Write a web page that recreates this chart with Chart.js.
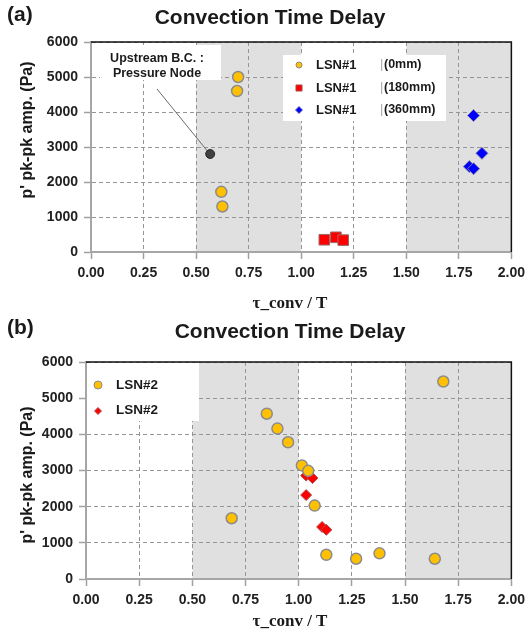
<!DOCTYPE html>
<html>
<head>
<meta charset="utf-8">
<script src="https://cdn.jsdelivr.net/npm/chart.js@4.4.0/dist/chart.umd.min.js"></script>
<style>
  html, body { margin: 0; padding: 0; background: #fff; }
  #wrap-a { position: absolute; left: 0; top: 0; width: 531px; height: 315px; }
  #wrap-b { position: absolute; left: 0; top: 315px; width: 531px; height: 319px; }
</style>
</head>
<body>
<div id="wrap-a"><canvas id="chart-a" width="531" height="315"></canvas></div>
<div id="wrap-b"><canvas id="chart-b" width="531" height="319"></canvas></div>
<script>
Chart.defaults.font.family = "'Liberation Sans', Arial, sans-serif";
Chart.defaults.color = '#222';

// tick labels
const xTickLabels = ["0.00", "0.25", "0.50", "0.75", "1.00", "1.25", "1.50", "1.75", "2.00"];
const yTickLabels = ["0", "1000", "2000", "3000", "4000", "5000", "6000"];
const shadedBands = [[0.5, 1.0], [1.5, 2.0]];

// (a) LSN#1
const lsn1Mm0X = [0.70, 0.695, 0.62, 0.625];
const lsn1Mm0Y = [5000, 4600, 1720, 1300];
const lsn1Mm180X = [1.11, 1.165, 1.20];
const lsn1Mm180Y = [350, 420, 340];
const lsn1Mm360X = [1.82, 1.86, 1.80, 1.82];
const lsn1Mm360Y = [3900, 2820, 2440, 2380];
const upstreamX = [0.567];
const upstreamY = [2800];

// (b) LSN#2
const lsn2CircleX = [0.85, 0.90, 0.95, 0.685, 1.68, 1.015, 1.045, 1.075, 1.13, 1.27, 1.38, 1.64];
const lsn2CircleY = [4570, 4160, 3780, 1680, 5460, 3140, 2990, 2030, 670, 560, 710, 560];
const lsn2DiamondX = [1.035, 1.065, 1.035, 1.075, 1.11, 1.13];
const lsn2DiamondY = [2860, 2790, 2320, 2040, 1440, 1360];

function points(xs, ys) {
    return xs.map((x, i) => ({ x: x, y: ys[i] }));
}

function makeScales(yWidth, xHeight) {
    const grid = {
        color: '#959595',
        lineWidth: 1,
        tickLength: 7,
        tickColor: '#a0a0a0',
        tickWidth: 1.5,
        tickBorderDash: []
    };
    const border = { color: '#a6a6a6', width: 2, dash: [4, 3] };
    return {
        x: {
            type: 'linear', min: 0, max: 2,
            afterFit: s => { s.height = xHeight; },
            ticks: {
                stepSize: 0.25, padding: 6, color: '#222',
                font: { size: 14, weight: 'bold' },
                callback: (v, i) => xTickLabels[i]
            },
            grid: grid, border: border
        },
        y: {
            type: 'linear', min: 0, max: 6000,
            afterFit: s => { s.width = yWidth; },
            ticks: {
                stepSize: 1000, padding: 6, color: '#222',
                font: { size: 14, weight: 'bold' },
                callback: (v, i) => yTickLabels[i]
            },
            grid: grid, border: border
        }
    };
}

function text(ctx, str, x, y, font, align, rot) {
    ctx.save();
    ctx.translate(x, y);
    if (rot) ctx.rotate(rot);
    ctx.font = font;
    ctx.fillStyle = '#1a1a1a';
    ctx.textAlign = align || 'center';
    ctx.textBaseline = 'middle';
    ctx.fillText(str, 0, 0);
    ctx.restore();
}

function marker(ctx, kind, x, y, r, fill, stroke) {
    ctx.save();
    ctx.fillStyle = fill;
    ctx.strokeStyle = stroke;
    ctx.lineWidth = 1;
    ctx.beginPath();
    if (kind === 'circle') ctx.arc(x, y, r, 0, Math.PI * 2);
    if (kind === 'rect') ctx.rect(x - r, y - r, 2 * r, 2 * r);
    if (kind === 'diamond') {
        ctx.moveTo(x, y - r); ctx.lineTo(x + r, y); ctx.lineTo(x, y + r); ctx.lineTo(x - r, y); ctx.closePath();
    }
    ctx.fill();
    ctx.stroke();
    ctx.restore();
}

function decor(cfg) {
    return {
        id: 'decor',
        beforeDraw(chart) {
            const { ctx, chartArea: a, scales: { x } } = chart;
            ctx.save();
            ctx.fillStyle = '#e0e0e0';
            shadedBands.forEach(b => {
                const x0 = x.getPixelForValue(b[0]);
                const x1 = x.getPixelForValue(b[1]);
                ctx.fillRect(x0, a.top, x1 - x0, a.bottom - a.top);
            });
            ctx.restore();
            text(ctx, cfg.tag, 7, cfg.tagY, "bold 21px 'Liberation Sans', Arial", 'left');
            text(ctx, 'Convection Time Delay', cfg.titleX, cfg.titleY, "bold 21px 'Liberation Sans', Arial");
            text(ctx, "p' pk-pk amp. (Pa)", 28, cfg.yTitleY, "bold 16px 'Liberation Sans', Arial", 'center', -Math.PI / 2);
            text(ctx, 'τ_conv / T', 290, cfg.xTitleY, "bold 17px 'Liberation Serif', 'Times New Roman', serif");
        },
        beforeDatasetsDraw(chart) {
            cfg.overlay(chart);
        },
        afterDraw(chart) {
            const { ctx, chartArea: a } = chart;
            ctx.save();
            ctx.strokeStyle = '#111';
            ctx.lineWidth = 1.5;
            ctx.beginPath();
            ctx.moveTo(a.left, a.top);
            ctx.lineTo(a.right, a.top);
            ctx.lineTo(a.right, a.bottom);
            ctx.stroke();
            ctx.restore();
        }
    };
}

const commonOptions = (padTop, yWidth, xHeight) => ({
    responsive: false,
    animation: false,
    layout: { padding: { top: padTop, right: 14, left: 0, bottom: 0 } },
    plugins: { legend: { display: false }, tooltip: { enabled: false } },
    scales: makeScales(yWidth, xHeight)
});

// ---------- (a) ----------
new Chart(document.getElementById('chart-a').getContext('2d'), {
    type: 'scatter',
    data: {
        datasets: [
            {
                label: 'LSN#1 (0mm)', data: points(lsn1Mm0X, lsn1Mm0Y),
                pointStyle: 'circle', pointRadius: 5.5,
                backgroundColor: '#FFC000', borderColor: '#8c8c8c', borderWidth: 1.5
            },
            {
                label: 'LSN#1 (180mm)', data: points(lsn1Mm180X, lsn1Mm180Y),
                pointStyle: 'rect', pointRadius: 7.5,
                backgroundColor: '#FF0000', borderColor: '#9a6a6a', borderWidth: 1
            },
            {
                label: 'LSN#1 (360mm)', data: points(lsn1Mm360X, lsn1Mm360Y),
                pointStyle: 'rectRot', pointRadius: 6,
                backgroundColor: '#0000FF', borderColor: '#7a7aa8', borderWidth: 1
            },
            {
                label: 'Upstream B.C.', data: points(upstreamX, upstreamY),
                pointStyle: 'circle', pointRadius: 4.5,
                backgroundColor: '#404040', borderColor: '#2a2a2a', borderWidth: 1
            }
        ]
    },
    options: commonOptions(42, 91, 63),
    plugins: [decor({
        tag: '(a)', tagY: 15, titleX: 270, titleY: 18, yTitleY: 130, xTitleY: 304,
        overlay(chart) {
            const { ctx, scales: { x, y } } = chart;
            // annotation box + leader line
            ctx.save();
            ctx.fillStyle = '#fff';
            ctx.fillRect(100, 45, 121, 35);
            ctx.strokeStyle = '#6a6a6a';
            ctx.lineWidth = 1;
            ctx.beginPath();
            ctx.moveTo(157, 89);
            ctx.lineTo(x.getPixelForValue(upstreamX[0]) - 2, y.getPixelForValue(upstreamY[0]) - 2);
            ctx.stroke();
            ctx.restore();
            text(ctx, 'Upstream B.C. :', 157, 59, "bold 12.5px 'Liberation Sans', Arial");
            text(ctx, 'Pressure Node', 157, 74, "bold 12.5px 'Liberation Sans', Arial");
            // legend
            ctx.save();
            ctx.fillStyle = '#fff';
            ctx.fillRect(283, 55, 163, 66);
            ctx.restore();
            const rows = [
                { y: 65, kind: 'circle', r: 3, fill: '#FFC000', stroke: '#8c8c8c', tag: '(0mm)' },
                { y: 88, kind: 'rect', r: 3, fill: '#FF0000', stroke: '#aa4444', tag: '(180mm)' },
                { y: 110, kind: 'diamond', r: 3.5, fill: '#0000FF', stroke: '#6060b0', tag: '(360mm)' }
            ];
            rows.forEach(r => {
                marker(ctx, r.kind, 299, r.y, r.r, r.fill, r.stroke);
                text(ctx, 'LSN#1', 316, r.y, "bold 13px 'Liberation Sans', Arial", 'left');
                ctx.save();
                ctx.fillStyle = '#b0b0b0';
                ctx.fillRect(381, r.y - 6, 1.2, 12);
                ctx.restore();
                text(ctx, r.tag, 384, r.y, "bold 12.5px 'Liberation Sans', Arial", 'left');
            });
        }
    })]
});

// ---------- (b) ----------
new Chart(document.getElementById('chart-b').getContext('2d'), {
    type: 'scatter',
    data: {
        datasets: [
            {
                label: 'LSN#2', data: points(lsn2CircleX, lsn2CircleY),
                pointStyle: 'circle', pointRadius: 5.5,
                backgroundColor: '#FFC000', borderColor: '#8c8c8c', borderWidth: 1.5
            },
            {
                label: 'LSN#2', data: points(lsn2DiamondX, lsn2DiamondY),
                pointStyle: 'rectRot', pointRadius: 5.5,
                backgroundColor: '#FF0000', borderColor: '#b05050', borderWidth: 1
            }
        ]
    },
    options: commonOptions(47, 86, 55),
    plugins: [decor({
        tag: '(b)', tagY: 13, titleX: 290, titleY: 17, yTitleY: 160, xTitleY: 307,
        overlay(chart) {
            const { ctx } = chart;
            ctx.save();
            ctx.fillStyle = '#fff';
            ctx.fillRect(87, 48, 112, 58);
            ctx.restore();
            marker(ctx, 'circle', 98, 70, 4, '#FFC000', '#8c8c8c');
            text(ctx, 'LSN#2', 116, 70, "bold 13.5px 'Liberation Sans', Arial", 'left');
            marker(ctx, 'diamond', 98, 96, 3.5, '#FF0000', '#b05050');
            text(ctx, 'LSN#2', 116, 95, "bold 13.5px 'Liberation Sans', Arial", 'left');
        }
    })]
});
</script>
</body>
</html>
